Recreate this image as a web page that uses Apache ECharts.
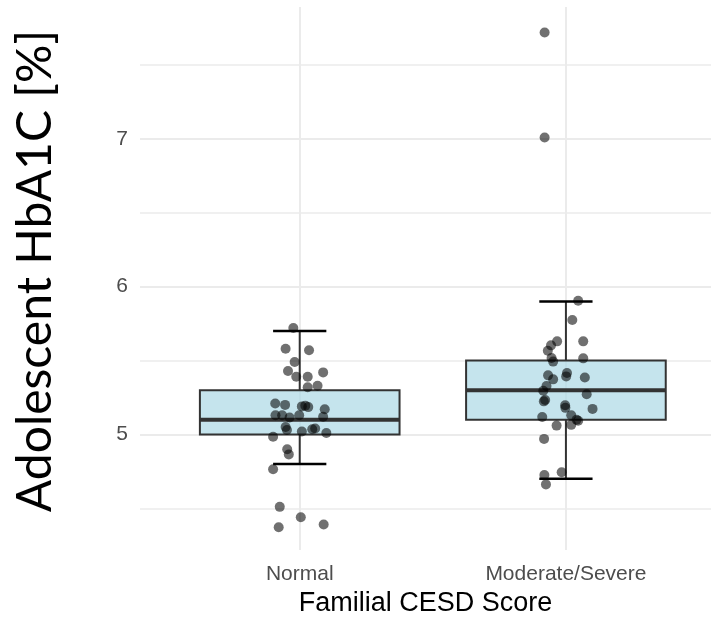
<!DOCTYPE html>
<html>
<head>
<meta charset="utf-8">
<script src="https://cdn.jsdelivr.net/npm/echarts@6/dist/echarts.min.js"></script>
<style>
html,body{margin:0;padding:0;background:#fff;}
#chart{width:711px;height:618px;}
</style>
</head>
<body>
<div id="chart"></div>
<script>
// ---- data ----
const categories = ['Normal', 'Moderate/Severe'];
// [lower whisker, Q1, median, Q3, upper whisker]
const boxStats = [
  [4.8, 5.0, 5.1, 5.3, 5.7],
  [4.7, 5.1, 5.3, 5.5, 5.9]
];
const normalValues = [5.72, 5.58, 5.57, 5.49, 5.43, 5.42, 5.39, 5.39, 5.32, 5.33,
  5.21, 5.20, 5.19, 5.195, 5.185, 5.17, 5.13, 5.13, 5.115, 5.13,
  5.12, 5.05, 5.03, 5.02, 5.035, 5.04, 4.985, 5.01, 4.90, 4.865,
  4.765, 4.51, 4.44, 4.372, 4.39];
const normalJitter = [-0.024, -0.053, 0.035, -0.019, -0.044, 0.088, -0.013, 0.030, 0.030, 0.067,
  -0.092, -0.055, 0.008, 0.021, 0.032, 0.094, -0.091, -0.066, -0.038, -0.002,
  0.088, -0.053, -0.048, 0.008, 0.047, 0.058, -0.100, 0.100, -0.047, -0.041,
  -0.100, -0.075, 0.004, -0.079, 0.090];
const severeValues = [7.72, 7.01, 5.905, 5.775, 5.63, 5.63, 5.603, 5.567, 5.518, 5.515,
  5.493, 5.40, 5.416, 5.393, 5.386, 5.373, 5.328, 5.296, 5.272, 5.233,
  5.224, 5.198, 5.18, 5.173, 5.118, 5.13, 5.10, 5.093, 5.065, 5.06,
  4.97, 4.744, 4.726, 4.662];
const severeJitter = [-0.080, -0.080, 0.046, 0.024, -0.033, 0.065, -0.056, -0.068, -0.054, 0.065,
  -0.048, -0.067, 0.004, 0.001, 0.071, -0.048, -0.073, -0.085, 0.078, -0.078,
  -0.083, -0.003, -0.002, 0.100, -0.089, 0.020, 0.040, 0.046, 0.020, -0.035,
  -0.082, -0.016, -0.081, -0.075];
const yTitle = 'Adolescent HbA1C [%]';
const xTitle = 'Familial CESD Score';

// ---- chart ----
const BOX_HALF = 0.375, CAP_HALF = 0.1;
const chart = echarts.init(document.getElementById('chart'), null, {renderer: 'canvas'});

function catLabel(v) {
  const r = Math.round(v);
  if (Math.abs(v - r) > 1e-6) return '';
  return categories[r - 1] || '';
}

const boxData = boxStats.map((s, i) => [i + 1].concat(s));
const pts = normalValues.map((v, i) => [1 + normalJitter[i], v])
  .concat(severeValues.map((v, i) => [2 + severeJitter[i], v]));

chart.setOption({
  animation: false,
  backgroundColor: '#ffffff',
  grid: {left: 140, top: 7, right: 0, bottom: 68, containLabel: false, outerBoundsMode: 'none'},
  xAxis: {
    type: 'value', min: 0.4, max: 2.545, minInterval: 1, maxInterval: 1,
    axisLine: {show: false}, axisTick: {show: false},
    axisLabel: {formatter: catLabel, color: '#4d4d4d', fontSize: 21, fontFamily: 'Liberation Sans', margin: 14,
      showMinLabel: false, showMaxLabel: false},
    splitLine: {show: true, showMinLine: false, showMaxLine: false, lineStyle: {color: '#ebebeb', width: 2}},
    name: xTitle, nameLocation: 'middle', nameGap: 35,
    nameTextStyle: {fontSize: 27, color: '#000', fontFamily: 'Liberation Sans'}
  },
  yAxis: {
    type: 'value', min: 4.218, max: 7.893, minInterval: 1, maxInterval: 1,
    axisLine: {show: false}, axisTick: {show: false},
    axisLabel: {
      formatter: v => (Math.abs(v - Math.round(v)) < 1e-6 ? String(Math.round(v)) : ''),
      color: '#4d4d4d', fontSize: 21, fontFamily: 'Liberation Sans', margin: 12,
      showMinLabel: false, showMaxLabel: false
    },
    splitLine: {show: true, showMinLine: false, showMaxLine: false, lineStyle: {color: '#ebebeb', width: 2}},
    minorTick: {show: false, splitNumber: 2},
    minorSplitLine: {show: true, lineStyle: {color: '#ebebeb', width: 1.5}},
    name: yTitle, nameLocation: 'middle', nameGap: 80,
    nameTextStyle: {fontSize: 48, color: '#000', fontFamily: 'Lato', padding: [0, 0, 0, 15]}
  },
  series: [
    {
      type: 'custom',
      data: boxData,
      encode: {x: 0, y: [1, 2, 3, 4, 5]},
      z: 2,
      renderItem: function (params, api) {
        const c = api.value(0), lo = api.value(1), q1 = api.value(2), med = api.value(3), q3 = api.value(4), hi = api.value(5);
        const tl = api.coord([c - BOX_HALF, q3]);
        const br = api.coord([c + BOX_HALF, q1]);
        const top = api.coord([c, hi]), bot = api.coord([c, lo]);
        const q3p = api.coord([c, q3]), q1p = api.coord([c, q1]);
        const capL1 = api.coord([c - CAP_HALF, hi]), capR1 = api.coord([c + CAP_HALF, hi]);
        const capL2 = api.coord([c - CAP_HALF, lo]), capR2 = api.coord([c + CAP_HALF, lo]);
        const mL = api.coord([c - BOX_HALF, med]), mR = api.coord([c + BOX_HALF, med]);
        const line = (a, b, col, w) => ({type: 'line', shape: {x1: a[0], y1: a[1], x2: b[0], y2: b[1]}, style: {stroke: col, lineWidth: w}});
        return {
          type: 'group',
          children: [
            line(top, q3p, '#333333', 2),
            line(q1p, bot, '#333333', 2),
            line(capL1, capR1, '#000000', 2.5),
            line(capL2, capR2, '#000000', 2.5),
            {type: 'rect', shape: {x: tl[0], y: tl[1], width: br[0] - tl[0], height: br[1] - tl[1]},
              style: {fill: 'rgba(173,216,230,0.7)', stroke: '#333333', lineWidth: 2}},
            line(mL, mR, '#333333', 4)
          ]
        };
      }
    },
    {
      type: 'scatter',
      data: pts,
      z: 3,
      symbol: 'circle',
      symbolSize: 10,
      itemStyle: {color: 'rgba(0,0,0,0.7)'}
    }
  ]
});
</script>
</body>
</html>
